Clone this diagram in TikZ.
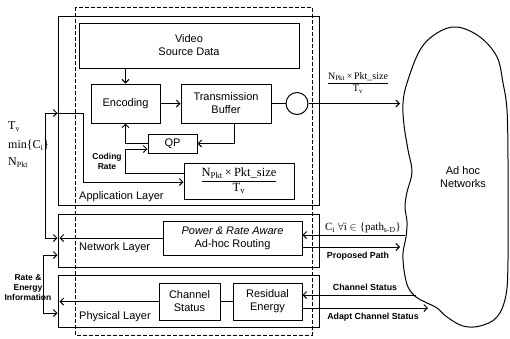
\documentclass[tikz,border=0pt]{standalone}
\usepackage{fontspec}
\setmainfont{Liberation Sans}
\newfontfamily\tnr{Liberation Serif}
\usetikzlibrary{arrows.meta}
\begin{document}
\begin{tikzpicture}[x=1pt,y=-1pt,
  box/.style={draw, line width=1pt, inner sep=0pt, align=center, font=\fontsize{11}{13}\selectfont},
  lbl/.style={font=\fontsize{11}{13}\selectfont, inner sep=0pt, anchor=west},
  sml/.style={font=\bfseries\fontsize{8.5}{10}\selectfont, inner sep=0pt, align=center},
  ser/.style={font=\tnr\fontsize{12}{14}\selectfont, inner sep=0pt},
  arr/.style={-{Straight Barb[length=3.5pt,width=7pt]}, line width=1pt},
  ln/.style={line width=1pt},
  dsh/.style={line width=0.9pt, dash pattern=on 4pt off 2pt},
]
\useasboundingbox (0,0) rectangle (510,338);

% layers
\node[box, minimum width=261pt, minimum height=189pt] (app) at (188.5,110.5) {};
\node[box, minimum width=261pt, minimum height=53pt] (net) at (188.5,240.5) {};
\node[box, minimum width=261pt, minimum height=52pt] (phy) at (188.5,301) {};
\node[lbl] (appl) at (79,197) {Application Layer};
\node[lbl] (netl) at (79,248) {Network Layer};
\node[lbl] (phyl) at (79,317) {Physical Layer};

% application layer blocks
\node[box, minimum width=220pt, minimum height=45pt] (vid) at (189,45.5) {Video\\Source Data};
\node[box, minimum width=69pt, minimum height=39pt] (enc) at (125.5,103.5) {Encoding};
\node[box, minimum width=90pt, minimum height=39pt] (buf) at (226,103.5) {Transmission\\Buffer};
\node[draw, line width=1pt, circle, minimum size=22pt, inner sep=0pt] (circ) at (297,103.5) {};
\node[box, minimum width=49pt, minimum height=19pt] (qp) at (172.5,143.5) {QP};
\node[box, minimum width=110pt, minimum height=36pt] (frac) at (239,181)
  {\tnr\fontsize{12.5}{14}\selectfont\renewcommand\arraystretch{1.05}\begin{tabular}{@{}c@{}}N\textsubscript{Pkt}\,×\,Pkt\_size\\\hline T\textsubscript{v}\end{tabular}};
\node[sml] (cr) at (107,161) {Coding\\Rate};

% network / physical blocks
\node[box, minimum width=139pt, minimum height=34pt] (route) at (232.5,238) {\itshape Power \& Rate Aware\\Ad-hoc Routing};
\node[box, minimum width=61pt, minimum height=37pt] (chs) at (189.5,301.5) {Channel\\Status};
\node[box, minimum width=69pt, minimum height=37pt] (res) at (267.5,301.5) {Residual\\Energy};

% left labels
\node[ser, anchor=west] (tv) at (8,127) {T\textsubscript{v}};
\node[ser, anchor=west] (mc) at (8,145) {min\{C\textsubscript{i}\}};
\node[ser, anchor=west] (np) at (8,163) {N\textsubscript{Pkt}};
\node[sml] (re) at (28,288) {Rate \&\\Energy\\Information};

% cloud
\draw[line width=1pt] plot[smooth cycle, tension=0.6] coordinates {
 (457,27) (480,37) (497,57) (503,83) (507,110) (508,160) (508,210) (508,260) (506,295)
 (497,317) (480,326) (463,326) (447,317) (437,308) (425,302) (416,297) (408,287)
 (404,270) (403,253) (406,237) (407,222) (405,207) (407,192) (412,172) (408,150)
 (404,125) (403,103) (407,83) (420,50) (437,33)};
\node[font=\fontsize{11}{13}\selectfont, align=center] (adhoc) at (463,177) {Ad hoc\\Networks};

% connectors inside application layer
\draw[arr] (vid.south -| enc.north) -- (enc.north);
\draw[arr] (enc.east) -- (buf.west);
\draw[ln] (buf.east) -- (circ.west);
\coordinate (cin) at (400,103.5);
\draw[arr] (circ.east) -- (cin);
\node[font=\tnr\fontsize{10}{12}\selectfont, inner sep=0pt] (frtop) at (358,83)
  {\renewcommand\arraystretch{1.0}\begin{tabular}{@{}c@{}}N\textsubscript{Pkt}\,×\,Pkt\_size\\\hline T\textsubscript{v}\end{tabular}};
\coordinate (bufdn) at ([xshift=8pt]buf.south);
\draw[arr] (bufdn) |- (qp.east);
\draw[arr] (qp.west) -| (enc.south);
\coordinate (qpin) at ([yshift=-5.5pt]qp.west);
\coordinate (frout) at ([yshift=8pt]frac.west);
\draw[arr] (frout) -| (enc.south |- qpin) -- (qpin);

% left feedback loop
\coordinate (lt) at (45,113);
\coordinate (lb) at (45,238);
\coordinate (lin) at (83,113);
\coordinate (frin) at ([yshift=-1pt]frac.west);
\draw[arr] (lb) -- (lt) -- (lin) |- (frin);
\draw[arr] (lt) -- (lt -| app.west);
\draw[arr] (lb) -- (lb -| net.west);
\draw[arr, shorten >=2pt] (route.west) -- (route.west -| net.west);

% rate & energy bracket
\coordinate (ra) at (43,255);
\coordinate (rb) at (43,313);
\draw[{Straight Barb[length=3.5pt,width=7pt]}-{Straight Barb[length=3.5pt,width=7pt]}, line width=1pt]
  (ra -| net.west) -- (ra) -- (rb) -- (rb -| phy.west);

% physical layer
\draw[arr, shorten >=2pt] (chs.west) -- (chs.west -| phy.west);
\draw[ln] (chs.east) -- (res.west);

% cloud connectors
\coordinate (c1) at (405,235);
\coordinate (c2) at (400,247);
\coordinate (c3) at (416,295);
\coordinate (c4) at (428,308);
\draw[arr] (c1) -- (c1 -| route.east);
\draw[arr] (c2 -| route.east) -- (c2);
\draw[arr] (c3) -- (c3 -| res.east);
\draw[arr] (c4 -| res.east) -- (c4);
\node[font=\tnr\fontsize{11}{12}\selectfont, inner sep=0pt, anchor=south] (cil) at (363,233.5)
  {C\textsubscript{i} $\forall$i $\in$ \{path\textsubscript{s-D}\}};
\node[sml, font=\bfseries\fontsize{8.8}{10}\selectfont] (ppl) at (358,256) {Proposed Path};
\node[sml, font=\bfseries\fontsize{8.8}{10}\selectfont] (csl) at (365,287) {Channel Status};
\node[sml, font=\bfseries\fontsize{8.8}{10}\selectfont] (acl) at (373,317) {Adapt Channel Status};

% dashed outer frame
\draw[dsh] (75,7) rectangle (312,335);
\end{tikzpicture}
\end{document}
